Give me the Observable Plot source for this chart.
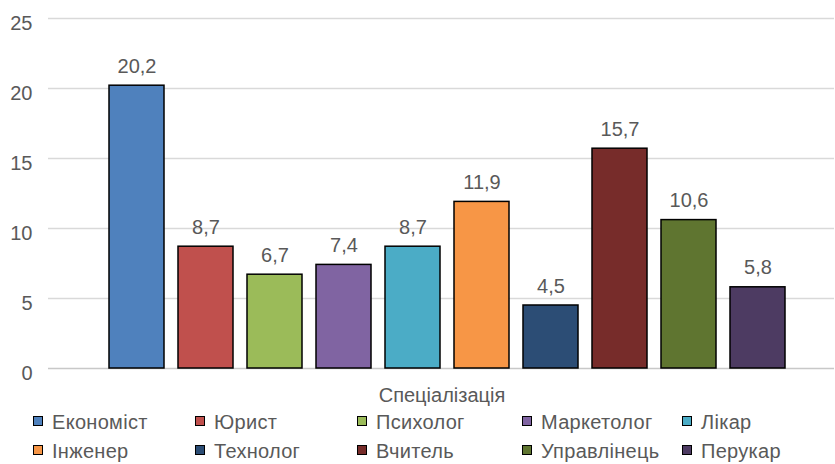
<!DOCTYPE html>
<html>
<head>
<meta charset="utf-8">
<script src="https://cdn.jsdelivr.net/npm/d3@7"></script>
<script src="https://cdn.jsdelivr.net/npm/@observablehq/plot@0.6"></script>
<style>
  html, body { margin: 0; padding: 0; background: #fff; }
  #wrap { position: relative; width: 835px; height: 464px; font-family: "Liberation Sans", Arial, sans-serif; color: #595959; }
  #chart svg { display: block; }
  .title { position: absolute; top: 385px; left: 0; width: 884px; text-align: center; font-size: 20px; line-height: 20px; }
  .item { position: absolute; font-size: 20px; line-height: 20px; white-space: nowrap; letter-spacing: 0.3px; }
  .sw { position: absolute; width: 8px; height: 8px; border: 1.5px solid #000; }
</style>
</head>
<body>
<div id="wrap">
  <div id="chart"></div>
  <div class="title">Спеціалізація</div>
  <div id="legend"></div>
</div>
<script>
const categories = ["Економіст", "Юрист", "Психолог", "Маркетолог", "Лікар", "Інженер", "Технолог", "Вчитель", "Управлінець", "Перукар"];
const values = [20.2, 8.7, 6.7, 7.4, 8.7, 11.9, 4.5, 15.7, 10.6, 5.8];
const colors = ["#4F81BD", "#C0504D", "#9BBB59", "#8064A2", "#4BACC6", "#F79646", "#2C4D75", "#772C2A", "#5F7530", "#4D3B62"];
const yTicks = [0, 5, 10, 15, 20, 25];

const data = categories.map((c, i) => ({name: c, value: values[i], label: values[i].toFixed(1).replace(".", ",")}));

const chart = Plot.plot({
  width: 835,
  height: 386,
  marginTop: 18,
  marginBottom: 18,
  marginLeft: 48,
  marginRight: 1,
  style: {fontFamily: "'Liberation Sans', Arial, sans-serif", color: "#595959", background: "transparent"},
  x: {type: "band", domain: categories, insetLeft: 60, insetRight: 49, paddingInner: 0.204, paddingOuter: 0, axis: null},
  y: {domain: [0, 25], axis: null},
  color: {domain: categories, range: colors},
  marks: [
    Plot.gridY(yTicks.filter(d => d > 0), {stroke: "#d9d9d9", strokeOpacity: 1, strokeWidth: 1.5}),
    Plot.ruleY([0], {stroke: "#c8c8c8", strokeWidth: 1.5}),
    Plot.axisY(yTicks, {label: null, tickSize: 0, tickPadding: 16, fontSize: 20, fill: "#595959", dy: 5, tickFormat: d => String(d)}),
    Plot.barY(data, {x: "name", y: "value", fill: "name", stroke: "#000", strokeWidth: 1.5}),
    Plot.text(data, {x: "name", y: "value", text: "label", dy: -13, lineAnchor: "bottom", fontSize: 20, fill: "#595959"})
  ]
});
document.getElementById("chart").appendChild(chart);

const legend = document.getElementById("legend");
const colX = [33, 195, 357, 522, 682];
categories.forEach((c, i) => {
  const row = Math.floor(i / 5), col = i % 5;
  const sw = document.createElement("div");
  sw.className = "sw";
  sw.style.left = colX[col] + "px";
  sw.style.top = (row === 0 ? 416 : 445) + "px";
  sw.style.background = colors[i];
  legend.appendChild(sw);
  const t = document.createElement("div");
  t.className = "item";
  t.style.left = (colX[col] + 19) + "px";
  t.style.top = (row === 0 ? 412 : 441) + "px";
  t.textContent = c;
  legend.appendChild(t);
});
</script>
</body>
</html>
